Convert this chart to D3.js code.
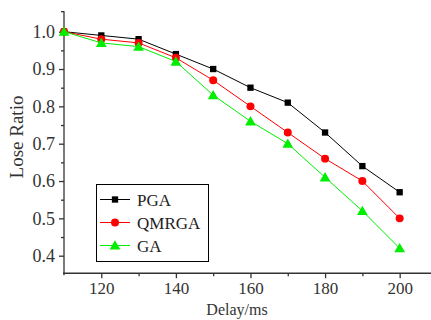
<!DOCTYPE html>
<html><head><meta charset="utf-8">
<script src="https://cdn.jsdelivr.net/npm/d3@7"></script>
<style>body{margin:0;background:#fff}svg{display:block}</style>
</head><body>
<script>
const delays = [110,120,130,140,150,160,170,180,190,200];
const pga    = [1.00,0.99,0.98,0.94,0.90,0.85,0.81,0.73,0.64,0.57];
const qmrga  = [1.00,0.98,0.97,0.93,0.87,0.80,0.73,0.66,0.60,0.50];
const ga     = [1.00,0.97,0.96,0.92,0.83,0.76,0.70,0.61,0.52,0.42];
const seriesNames = ["PGA","QMRGA","GA"];
const xTicks = [120,140,160,180,200];
const yTicks = [0.4,0.5,0.6,0.7,0.8,0.9,1.0];

const W=431,H=320;
const svg=d3.select("body").append("svg").attr("width",W).attr("height",H);
const font="'Liberation Serif','Times New Roman',serif";
const x=d3.scaleLinear().domain([110,208]).range([64,429.5]);
const y=d3.scaleLinear().domain([0.4,1.0]).range([255.7,31.7]);
const yTop=1.055, yBot=0.353;

const series=[
 {name:seriesNames[0],vals:pga,color:"#000000",shape:d3.symbolSquare,size:40},
 {name:seriesNames[1],vals:qmrga,color:"#ff0000",shape:d3.symbolCircle,size:50},
 {name:seriesNames[2],vals:ga,color:"#00ee00",shape:d3.symbolTriangle,size:50}
];
const axisColor="#333";
const gx=svg.append("g").attr("transform",`translate(0,${y(yBot)})`)
 .call(d3.axisBottom(x).tickValues(xTicks).tickSize(5).tickPadding(4).tickFormat(d3.format("d")));
gx.select(".domain").remove();
gx.append("line").attr("x1",x(110)-1).attr("x2",W).attr("stroke",axisColor).attr("stroke-width",1.3);
const gxm=svg.append("g").attr("transform",`translate(0,${y(yBot)})`)
 .call(d3.axisBottom(x).tickValues([130,150,170,190]).tickSize(3).tickFormat(""));
gxm.select(".domain").remove();

const gy=svg.append("g").attr("transform",`translate(${x(110)},0)`)
 .call(d3.axisLeft(y).tickValues(yTicks).tickSize(5).tickPadding(4).tickFormat(d3.format(".1f")));
gy.select(".domain").remove();
gy.append("line").attr("y1",y(yTop)).attr("y2",y(yBot)+2).attr("stroke",axisColor).attr("stroke-width",1.3);
const gym=svg.append("g").attr("transform",`translate(${x(110)},0)`)
 .call(d3.axisLeft(y).tickValues([0.45,0.55,0.65,0.75,0.85,0.95,yTop]).tickSize(3).tickFormat(""));
gym.select(".domain").remove();
[gx,gxm,gy,gym].forEach(g=>{g.selectAll("line").attr("stroke",axisColor).attr("stroke-width",1.3);
 g.selectAll("text").attr("fill","#333").style("font-family",font).style("font-size","18px");});
gx.selectAll("text").style("font-size","17px");

const line=d3.line().x((d,i)=>x(delays[i])).y(d=>y(d));
series.forEach(s=>{
 svg.append("path").attr("d",line(s.vals)).attr("fill","none").attr("stroke",s.color).attr("stroke-width",1);
 svg.append("g").selectAll("path").data(s.vals).join("path")
  .attr("transform",(d,i)=>`translate(${x(delays[i])},${y(d)+(s.shape===d3.symbolTriangle?1:0)})`)
  .attr("d",d3.symbol(s.shape,s.size)).attr("fill",s.color);
});

const lg=svg.append("g");
lg.append("rect").attr("x",96.5).attr("y",184.5).attr("width",112).attr("height",77)
 .attr("fill","#fff").attr("stroke","#000").attr("stroke-width",1);
series.forEach((s,i)=>{
 const cy=199.5+i*23;
 lg.append("line").attr("x1",100).attr("x2",130).attr("y1",cy).attr("y2",cy).attr("stroke",s.color).attr("stroke-width",1);
 lg.append("path").attr("transform",`translate(115,${cy+(s.shape===d3.symbolTriangle?1:0)})`)
  .attr("d",d3.symbol(s.shape,s.size)).attr("fill",s.color);
 lg.append("text").attr("x",137).attr("y",cy+6).text(s.name)
  .style("font-family",font).style("font-size","17px").attr("fill","#222");
});

svg.append("text").attr("x",237).attr("y",315).attr("text-anchor","middle").text("Delay/ms")
 .style("font-family",font).style("font-size","16px").attr("fill","#333");
svg.append("text").attr("transform","translate(23,137) rotate(-90)").attr("text-anchor","middle").text("Lose Ratio")
 .style("font-family",font).style("font-size","19px").attr("fill","#333");
</script>
</body></html>
